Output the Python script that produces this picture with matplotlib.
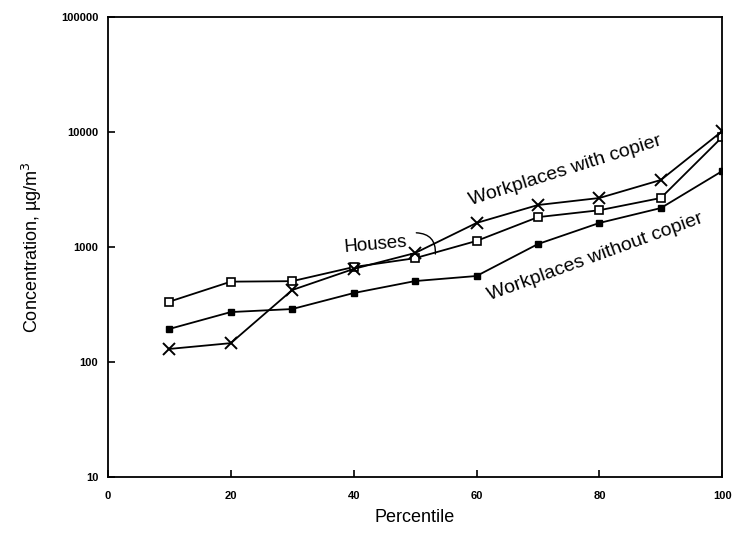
import matplotlib
matplotlib.use("Agg")
import matplotlib.pyplot as plt
from matplotlib.ticker import FixedLocator, FixedFormatter, NullLocator

# Datos
percentil = [10, 20, 30, 40, 50, 60, 70, 80, 90, 100]
casas = [335, 500, 505, 670, 800, 1130, 1820, 2090, 2670, 9060]
con_copiadora = [130, 146, 423, 645, 887, 1620, 2320, 2670, 3830, 10200]
sin_copiadora = [194, 272, 289, 398, 506, 560, 1062, 1620, 2183, 4580]

x_ticks = [0, 20, 40, 60, 80, 100]
y_ticks = [10, 100, 1000, 10000, 100000]
y_labels = ["10", "100", "1000", "10000", "100000"]

plt.rcParams["font.family"] = ["Liberation Sans", "DejaVu Sans"]

fig = plt.figure(figsize=(7.34, 5.33), dpi=100)
ax = fig.add_axes([0.147, 0.105, 0.837, 0.863])

# Series
ax.plot(percentil, casas, color="black", lw=1.3, marker="s", ms=6,
        mfc="white", mec="black", mew=1.2)
ax.plot(percentil, con_copiadora, color="black", lw=1.3, marker="x", ms=8, mew=1.4)
ax.plot(percentil, sin_copiadora, color="black", lw=1.3, marker="s", ms=4.5)

ax.set_yscale("log")
ax.set_xlim(0, 100)
ax.set_ylim(10, 100000)

ax.xaxis.set_major_locator(FixedLocator(x_ticks))
ax.yaxis.set_major_locator(FixedLocator(y_ticks))
ax.yaxis.set_major_formatter(FixedFormatter(y_labels))
ax.yaxis.set_minor_locator(NullLocator())
ax.tick_params(direction="in", length=5, width=1.2, labelsize=8)
ax.tick_params(axis="x", pad=10)
ax.tick_params(axis="y", pad=7)
for lab in ax.get_xticklabels() + ax.get_yticklabels():
    lab.set_fontweight("bold")
for s in ax.spines.values():
    s.set_linewidth(1.3)

ax.set_xlabel("Percentile", fontsize=13, labelpad=6)
ax.set_ylabel("Concentration, \u00b5g/m$^3$", fontsize=13, labelpad=12)

# Etiquetas de las curvas
ax.text(74.4, 4600, "Workplaces with copier", fontsize=14, rotation=17.5,
        ha="center", va="center")
ax.text(79.3, 818, "Workplaces without copier", fontsize=14, rotation=20,
        ha="center", va="center")
ax.text(43.5, 1040, "Houses", fontsize=13.5, rotation=5,
        ha="center", va="center")
ax.annotate("", xy=(53.3, 870), xytext=(50.2, 1330),
            arrowprops=dict(arrowstyle="-", color="black", lw=1,
                            connectionstyle="arc3,rad=-0.5",
                            shrinkA=0, shrinkB=0))

plt.savefig("out.png", dpi=100)
